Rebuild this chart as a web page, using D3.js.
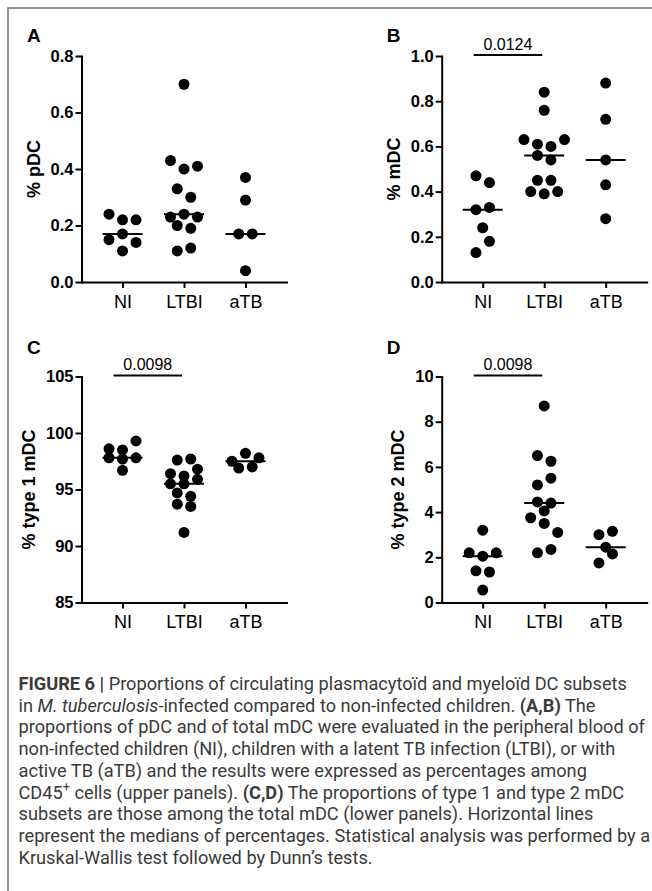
<!DOCTYPE html>
<html>
<head>
<meta charset="utf-8">
<script src="https://cdn.jsdelivr.net/npm/d3@7"></script>
<style>
body { margin: 0; background: #fff; }
svg { display: block; font-family: "Liberation Sans", Arial, sans-serif; }
.axis { font-family: "Liberation Sans", Arial, sans-serif; }
.axis path, .axis line { stroke: #000; stroke-width: 2; }
.axis .domain { stroke-linecap: square; }
.axis text { fill: #000; }
.caption { fill: #3a3a3a; font-family: Roboto, "Liberation Sans", sans-serif; }
</style>
</head>
<body>
<div id="figure"></div>
<script>
/*
Data. One inner array per horizontal row of dots (as laid out in the original
scatter dot plot).
*/
var groups = ["NI", "LTBI", "aTB"];

// A: % pDC among CD45+ cells
var pdcNI = [[0.24, 0.22, 0.22], [0.15, 0.17, 0.14], [0.11]];
var pdcLTBI = [[0.70], [0.43, 0.40, 0.41], [0.33, 0.30], [0.23, 0.24, 0.23], [0.20, 0.19], [0.11, 0.12]];
var pdcATB = [[0.37], [0.29], [0.17, 0.17], [0.04]];
var pdcTicks = [0, 0.2, 0.4, 0.6, 0.8];

// B: % mDC among CD45+ cells
var mdcNI = [[0.47, 0.44], [0.32, 0.33], [0.24], [0.13, 0.18]];
var mdcLTBI = [[0.84], [0.76], [0.63, 0.61, 0.60, 0.63], [0.56, 0.54], [0.45, 0.45], [0.40, 0.39, 0.40]];
var mdcATB = [[0.88], [0.72], [0.54], [0.43], [0.28]];
var mdcTicks = [0, 0.2, 0.4, 0.6, 0.8, 1.0];

// C: % type 1 mDC among total mDC
var type1NI = [[98.6, 98.5, 99.3], [97.8, 97.7, 97.8], [96.7]];
var type1LTBI = [[97.6, 97.7], [96.4, 96.2, 96.8], [95.5, 95.5, 95.9], [94.7, 94.4], [93.7, 93.5], [91.2]];
var type1ATB = [[97.5, 98.2, 97.8], [96.9, 97.0]];
var type1Ticks = [85, 90, 95, 100, 105];

// D: % type 2 mDC among total mDC
var type2NI = [[3.2], [2.2, 2.05, 2.2], [1.4, 1.35], [0.55]];
var type2LTBI = [[8.7], [6.5, 6.25], [5.2, 5.5], [4.45, 4.4], [4.05], [3.75, 3.5, 3.1], [2.2, 2.35]];
var type2ATB = [[3.0, 3.15], [2.45], [1.75, 2.15]];
var type2Ticks = [0, 2, 4, 6, 8, 10];

var panelLetters = ["A", "B", "C", "D"];
var axisTitles = ["% pDC", "% mDC", "% type 1 mDC", "% type 2 mDC"];
var tickFormats = [".1f", ".1f", "d", "d"];
var pValues = [null, "0.0124", "0.0098", "0.0098"];

/*
Caption, one array per printed line: [text, kind]
*/
var captionLines = [
	[["FIGURE 6 | ", "b"], ["Proportions of circulating plasmacyto\u00efd and myelo\u00efd DC subsets", ""]],
	[["in ", ""], ["M. tuberculosis", "i"], ["-infected compared to non-infected children. ", ""], ["(A,B)", "b"], [" The", ""]],
	[["proportions of pDC and of total mDC were evaluated in the peripheral blood of", ""]],
	[["non-infected children (NI), children with a latent TB infection (LTBI), or with", ""]],
	[["active TB (aTB) and the results were expressed as percentages among", ""]],
	[["CD45", ""], ["+", "sup"], [" cells (upper panels). ", ""], ["(C,D)", "b"], [" The proportions of type 1 and type 2 mDC", ""]],
	[["subsets are those among the total mDC (lower panels). Horizontal lines", ""]],
	[["represent the medians of percentages. Statistical analysis was performed by a", ""]],
	[["Kruskal-Wallis test followed by Dunn\u2019s tests.", ""]]
];

/*
Build the panel table from the arrays above
*/
var panels = [
	{ data: [pdcNI, pdcLTBI, pdcATB], ticks: pdcTicks },
	{ data: [mdcNI, mdcLTBI, mdcATB], ticks: mdcTicks },
	{ data: [type1NI, type1LTBI, type1ATB], ticks: type1Ticks },
	{ data: [type2NI, type2LTBI, type2ATB], ticks: type2Ticks }
];
panels.forEach(function(p, i) {
	p.letter = panelLetters[i];
	p.title = axisTitles[i];
	p.format = d3.format(tickFormats[i]);
	p.pValue = pValues[i];
});

/*
Layout constants
*/
var width = 652, height = 891;
var axisX = [81.5, 441.7];      // y-axis position per column
var axisTop = [56, 376.5];      // top tick per row
var letterBaseline = [41.7, 354];
var plotHeight = 226;
var axisLength = 205;
var dotRadius = 5.5;
var dotStep = 13.5;
var medianHalf = 20;

var svg = d3.select("#figure").append("svg")
	.attr("width", width)
	.attr("height", height);

// Frame round the figure
svg.append("path")
	.attr("d", "M8," + height + "V8H" + width)
	.attr("fill", "none")
	.attr("stroke", "#707070")
	.attr("stroke-width", 1.5);

panels.forEach(function(p, i) {
	var col = i % 2, row = Math.floor(i / 2);
	var g = svg.append("g")
		.attr("transform", "translate(" + axisX[col] + "," + axisTop[row] + ")");

	var yScale = d3.scaleLinear()
		.domain(d3.extent(p.ticks))
		.range([plotHeight, 0]);

	var xScale = d3.scalePoint()
		.domain(groups)
		.range([0, axisLength])
		.padding(0.667);

	// y-axis
	var gY = g.append("g")
		.attr("class", "axis")
		.call(d3.axisLeft(yScale)
			.tickValues(p.ticks)
			.tickFormat(p.format)
			.tickSize(6)
			.tickSizeOuter(0)
			.tickPadding(2))
		.attr("font-family", null);
	gY.selectAll("text")
		.style("font-size", "16.5px")
		.style("font-weight", "bold");

	// x-axis
	var gX = g.append("g")
		.attr("class", "axis")
		.attr("transform", "translate(0," + plotHeight + ")")
		.call(d3.axisBottom(xScale)
			.tickSize(6)
			.tickSizeOuter(0)
			.tickPadding(7))
		.attr("font-family", null);
	gX.selectAll("text")
		.style("font-size", "18px");

	// y-axis title, placed left of the widest tick label
	var maxLabel = d3.max(gY.selectAll("text").nodes(), function(n) { return n.getComputedTextLength(); });
	g.append("text")
		.attr("transform", "translate(" + (-8 - maxLabel - 11) + "," + (plotHeight / 2) + ") rotate(-90)")
		.attr("text-anchor", "middle")
		.style("font-size", "18px")
		.style("font-weight", "bold")
		.text(p.title);

	// Panel letter
	svg.append("text")
		.attr("x", col === 0 ? 27 : 386.7)
		.attr("y", letterBaseline[row])
		.style("font-size", "19px")
		.style("font-weight", "bold")
		.text(p.letter);

	// Dots: each row of a group spread round the category centre
	var dots = [];
	p.data.forEach(function(rows, gi) {
		rows.forEach(function(r) {
			r.forEach(function(v, k) {
				dots.push({ group: groups[gi], value: v, offset: (k - (r.length - 1) / 2) * dotStep });
			});
		});
	});

	g.append("g").selectAll("circle")
		.data(dots)
		.enter().append("circle")
		.attr("cx", function(d) { return xScale(d.group) + d.offset; })
		.attr("cy", function(d) { return yScale(d.value); })
		.attr("r", dotRadius)
		.attr("fill", "#000");

	// Median lines
	g.append("g").selectAll("line")
		.data(p.data.map(function(rows, gi) {
			return { group: groups[gi], median: d3.median(d3.merge(rows)) };
		}))
		.enter().append("line")
		.attr("x1", function(d) { return xScale(d.group) - medianHalf; })
		.attr("x2", function(d) { return xScale(d.group) + medianHalf; })
		.attr("y1", function(d) { return yScale(d.median); })
		.attr("y2", function(d) { return yScale(d.median); })
		.attr("stroke", "#000")
		.attr("stroke-width", 2);

	// Significance bar NI vs LTBI
	if (p.pValue) {
		var x1 = xScale(groups[0]) - 9, x2 = xScale(groups[1]) - 2;
		var yBar = yScale(d3.max(p.ticks)) - 1;
		g.append("line")
			.attr("x1", x1).attr("x2", x2)
			.attr("y1", yBar).attr("y2", yBar)
			.attr("stroke", "#000")
			.attr("stroke-width", 2);
		g.append("text")
			.attr("x", (x1 + x2) / 2)
			.attr("y", yBar - 5.5)
			.attr("text-anchor", "middle")
			.style("font-size", "16px")
			.text(p.pValue);
	}
});

/*
Caption
*/
var captionX = 18.5, captionTop = 690, captionStep = 21.7, captionWidth = 627;

var caption = svg.append("g").attr("class", "caption");

function drawLine(text, segs, size) {
	segs.forEach(function(s, k) {
		var t = text.append("tspan").text(s[0]);
		if (s[1] === "b") t.style("font-weight", "bold");
		if (s[1] === "i") t.style("font-style", "italic");
		if (s[1] === "sup") t.attr("dy", -size * 0.4).style("font-size", (size * 0.7) + "px");
		// undo superscript shift for the following text
		if (k > 0 && segs[k - 1][1] === "sup") t.attr("dy", size * 0.4);
	});
}

// Fit the font so the longest (justified) line spans the caption width
var probe = caption.append("text").style("font-size", "16px").text(captionLines[2][0][0]);
var fontSize = 16 * captionWidth / probe.node().getComputedTextLength();
probe.remove();

captionLines.forEach(function(segs, i) {
	var text = caption.append("text")
		.attr("x", captionX)
		.attr("y", captionTop + i * captionStep)
		.style("font-size", fontSize + "px");
	drawLine(text, segs, fontSize);
});
</script>
</body>
</html>
